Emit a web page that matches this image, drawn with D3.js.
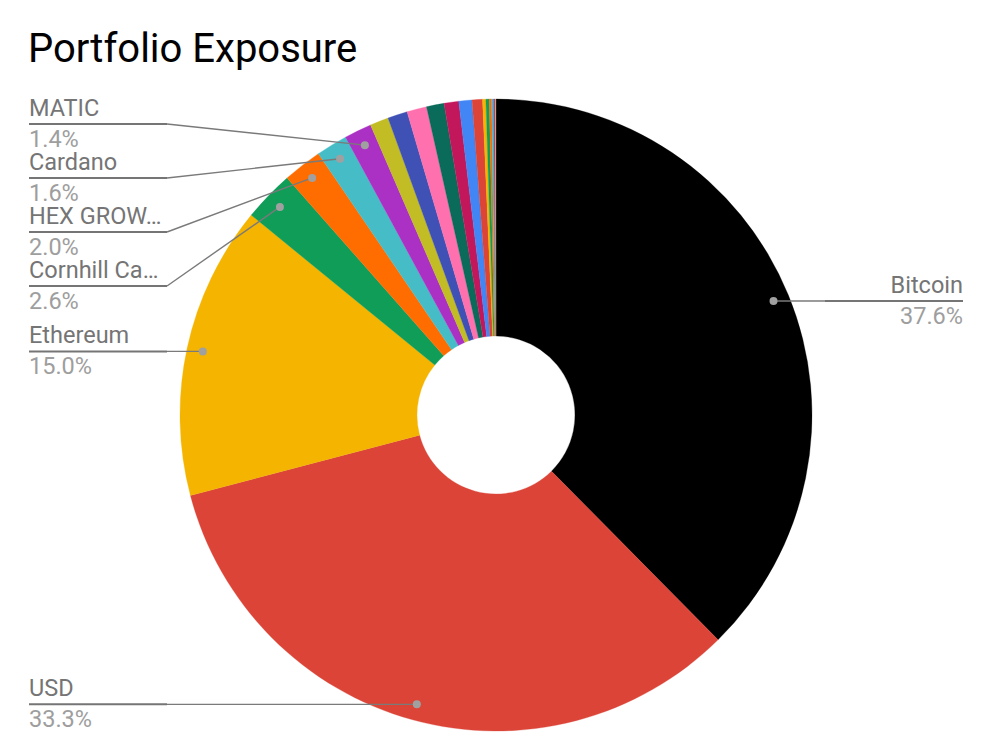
<!DOCTYPE html>
<html>
<head>
<meta charset="utf-8">
<script src="https://cdn.jsdelivr.net/npm/d3@7"></script>
<style>
  html, body { margin: 0; padding: 0; background: #ffffff; }
  svg { display: block; font-family: Roboto, "Noto Sans", sans-serif; }
</style>
</head>
<body>
<svg id="chart" width="986" height="748"></svg>
<script>
// ---- data ----
const title = "Portfolio Exposure";
const categories = ["Bitcoin", "USD", "Ethereum", "Cornhill Ca…", "HEX GROW…", "Cardano", "MATIC",
  "Asset 8", "Asset 9", "Asset 10", "Asset 11", "Asset 12", "Asset 13", "Asset 14",
  "Asset 15", "Asset 16", "Asset 17", "Asset 18", "Asset 19", "Asset 20"];
const values = [37.6, 33.3, 15.0, 2.6, 2.0, 1.6, 1.4,
  0.95, 1.01, 1.01, 0.90, 0.75, 0.67, 0.53,
  0.17, 0.17, 0.12, 0.10, 0.08, 0.04];
const palette = ["#000000", "#db4437", "#f4b400", "#0f9d58", "#ff6d01", "#46bdc6", "#ab30c4",
  "#c2bc25", "#3f51b5", "#ff70ae", "#0b6b5a", "#c2185b", "#4285f4", "#db4437",
  "#f4b400", "#0f9d58", "#ff6d01", "#46bdc6", "#ab30c4", "#c2bc25"];
const labelThreshold = 1.2;

// ---- layout ----
const W = 986, H = 748;
const cx = 496, cy = 415, R = 316, r0 = 79, dotR = 300;
const leftX = 29, rightX = 963, elbowLen = 138;
const spacing = 54, minLineY = 124, maxLineY = 720;

const svg = d3.select("#chart");
svg.append("text").attr("x", 28).attr("y", 62)
  .attr("font-size", 40).attr("fill", "#000").text(title);

const data = categories.map((c, i) => ({ name: c, value: values[i], color: palette[i] }));
const total = d3.sum(values);
const pie = d3.pie().value(d => d.value).sort(null);
const arcs = pie(data);
const arc = d3.arc().innerRadius(r0).outerRadius(R);

const g = svg.append("g").attr("transform", `translate(${cx},${cy})`);
g.selectAll("path").data(arcs).join("path")
  .attr("d", arc).attr("fill", d => d.data.color)
  .attr("stroke", d => d.data.color).attr("stroke-width", 0.3);

// labels
const labeled = arcs.filter(d => d.data.value >= labelThreshold).map(d => {
  const a = (d.startAngle + d.endAngle) / 2;
  const dx = cx + dotR * Math.sin(a), dy = cy - dotR * Math.cos(a);
  return { d, dx, dy, y: dy, side: dx < cx ? "left" : "right" };
});

function resolve(items) {
  items.sort((a, b) => a.dy - b.dy);
  let clusters = items.map(it => ({ items: [it], ideal: [it.dy] }));
  const place = c => {
    const mean = d3.mean(c.ideal);
    let start = mean - (c.items.length - 1) * spacing / 2;
    start = Math.max(minLineY, Math.min(start, maxLineY - (c.items.length - 1) * spacing));
    c.start = start;
  };
  clusters.forEach(place);
  let merged = true;
  while (merged) {
    merged = false;
    for (let i = 0; i < clusters.length - 1; i++) {
      const a = clusters[i], b = clusters[i + 1];
      const aEnd = a.start + (a.items.length - 1) * spacing;
      if (b.start - aEnd < spacing) {
        const c = { items: a.items.concat(b.items), ideal: a.ideal.concat(b.ideal) };
        place(c);
        clusters.splice(i, 2, c);
        merged = true;
        break;
      }
    }
  }
  clusters.forEach(c => c.items.forEach((it, k) => it.y = c.start + k * spacing));
}
resolve(labeled.filter(l => l.side === "left"));
resolve(labeled.filter(l => l.side === "right"));

const lg = svg.append("g");
labeled.forEach(l => {
  const left = l.side === "left";
  const x0 = left ? leftX : rightX;
  const xe = left ? leftX + elbowLen : rightX - elbowLen;
  const pct = (l.d.data.value / total * 100).toFixed(1) + "%";
  lg.append("path")
    .attr("d", `M${xe},${l.y}L${l.dx},${l.dy}`)
    .attr("fill", "none").attr("stroke", "#7a7a7a").attr("stroke-width", 1.4);
  lg.append("line")
    .attr("x1", x0).attr("x2", xe).attr("y1", l.y).attr("y2", l.y)
    .attr("stroke", "#757575").attr("stroke-width", 2);
  lg.append("circle").attr("cx", l.dx).attr("cy", l.dy).attr("r", 4).attr("fill", "#a0a0a0");
  lg.append("text").attr("x", x0).attr("y", l.y - 8)
    .attr("text-anchor", left ? "start" : "end")
    .attr("font-size", 23.5).attr("fill", "#757575").text(l.d.data.name);
  lg.append("text").attr("x", x0).attr("y", l.y + 23)
    .attr("text-anchor", left ? "start" : "end")
    .attr("font-size", 23.5).attr("fill", "#9e9e9e").text(pct);
});
</script>
</body>
</html>
